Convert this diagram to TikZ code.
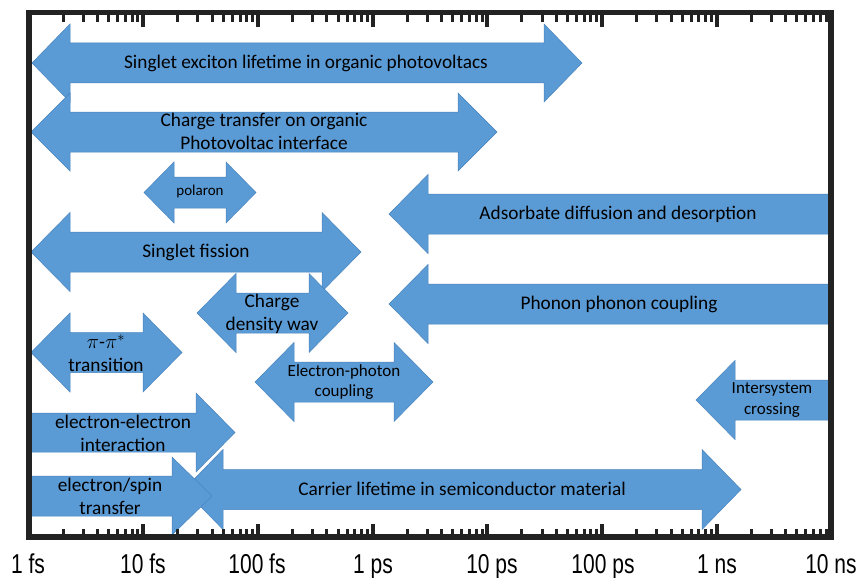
\documentclass[tikz,border=0pt]{standalone}
\usepackage{fontspec}
\usepackage{graphicx}
\setmainfont{Carlito}
\newfontfamily\axisfont{Liberation Sans}
\definecolor{arrowblue}{HTML}{5B9BD5}
\definecolor{arrowedge}{HTML}{4A84BE}
\definecolor{framegray}{HTML}{222222}
% double arrow: x1 x2 yc shafthalf headhalf headlength
\newcommand\DArrow[6]{%
  \path[arrowshape] (#1,#3) -- ({#1+#6},{#3-#5}) -- ({#1+#6},{#3-#4}) -- ({#2-#6},{#3-#4}) -- ({#2-#6},{#3-#5}) -- (#2,#3) -- ({#2-#6},{#3+#5}) -- ({#2-#6},{#3+#4}) -- ({#1+#6},{#3+#4}) -- ({#1+#6},{#3+#5}) -- cycle;}
% right arrow, flat left end
\newcommand\RArrow[6]{%
  \path[arrowshape] (#1,{#3-#4}) -- ({#2-#6},{#3-#4}) -- ({#2-#6},{#3-#5}) -- (#2,#3) -- ({#2-#6},{#3+#5}) -- ({#2-#6},{#3+#4}) -- (#1,{#3+#4}) -- cycle;}
% left arrow, flat right end
\newcommand\LArrow[6]{%
  \path[arrowshape] (#2,{#3-#4}) -- ({#1+#6},{#3-#4}) -- ({#1+#6},{#3-#5}) -- (#1,#3) -- ({#1+#6},{#3+#5}) -- ({#1+#6},{#3+#4}) -- (#2,{#3+#4}) -- cycle;}
\begin{document}
\begin{tikzpicture}[x=1pt,y=-1pt,
  arrowshape/.style={fill=arrowblue,draw=arrowedge,line width=0.5pt,line join=miter},
  lbl/.style={font=\fontsize{19.3}{23}\selectfont,align=center,inner sep=0pt},
  lblsmall/.style={font=\fontsize{17}{20.5}\selectfont,align=center,inner sep=0pt},
  lbltiny/.style={font=\fontsize{15}{18}\selectfont,align=center,inner sep=0pt},
  axislbl/.style={font=\axisfont\fontsize{21}{25}\selectfont,anchor=base,inner sep=0pt}]
\useasboundingbox (0,0) rectangle (860,578);
\fill[white] (0,0) rectangle (860,578);

% arrows
\DArrow{32}{582}{63}{20}{39}{38}
\DArrow{31}{497}{132}{20}{39}{39}
\DArrow{144}{256}{192.5}{15.5}{30.5}{30}
\DArrow{31}{361}{252}{20}{39.5}{39}
\DArrow{197}{348}{313}{20}{39.5}{39}
\DArrow{31}{182}{352.5}{20}{39.5}{39}
\DArrow{255}{433}{382}{20}{39.5}{39}
\LArrow{389}{829}{214}{20}{39.5}{39}
\LArrow{389}{829}{304}{20}{39.5}{39}
\LArrow{696}{829}{400}{20}{39.5}{39}
\DArrow{184}{741}{489.5}{20}{40}{39}
\RArrow{31}{235}{432.5}{19.5}{39.5}{39}
\RArrow{28}{212}{496}{20}{39}{40}

% labels
\node[lbl] (exciton) at (306,63) {Singlet exciton lifetime in organic photovoltacs};
\node[lbl] (ct) at (264,131) {Charge transfer on organic\\Photovoltac interface};
\node[lbltiny] (polaron) at (200,192) {polaron};
\node[lbl] (fission) at (196,252) {Singlet fission};
\node[lbl] (cdw) at (272,314) {Charge\\density wav};
\node[lbl] (pipi) at (106,353) {$\pi$-$\pi^*$\\transition};
\node[lblsmall] (ephoton) at (344,382) {Electron-photon\\coupling};
\node[lbl] (ee) at (123,433) {electron-electron\\interaction};
\node[lbl] (espin) at (110,496) {electron/spin\\transfer};
\node[lbl] (carrier) at (462,489) {Carrier lifetime in semiconductor material};
\node[lbl] (adsorb) at (618,214) {Adsorbate diffusion and desorption};
\node[lbl] (phonon) at (619,304) {Phonon phonon coupling};
\node[lblsmall] (isc) at (772,400) {Intersystem\\crossing};

% ticks
\foreach \d in {0,...,6}{
  \foreach \m in {2,...,9}{
    \fill[framegray] ({28.5+114.7*(\d+log10(\m))-1.5},537) rectangle +(3,-8);
    \fill[framegray] ({28.5+114.7*(\d+log10(\m))-1.5},12.5) rectangle +(3,9.5);
  }
}
\foreach \d in {1,...,6}{
  \fill[framegray] ({28.5+114.7*\d-2},537) rectangle +(4,-13);
  \fill[framegray] ({28.5+114.7*\d-2},12.5) rectangle +(4,14.5);
}
% frame
\draw[framegray,line width=5.5pt] (29,12.5) rectangle (831,537);

% axis labels
\node[axislbl] (t1fs) at (28,573) {\scalebox{1}[1.3]{1 fs}};
\node[axislbl] (t10fs) at (143,573) {\scalebox{1}[1.3]{10 fs}};
\node[axislbl] (t100fs) at (257,573) {\scalebox{1}[1.3]{100 fs}};
\node[axislbl] (t1ps) at (373,573) {\scalebox{1}[1.3]{1 ps}};
\node[axislbl] (t10ps) at (492,573) {\scalebox{1}[1.3]{10 ps}};
\node[axislbl] (t100ps) at (603,573) {\scalebox{1}[1.3]{100 ps}};
\node[axislbl] (t1ns) at (717,573) {\scalebox{1}[1.3]{1 ns}};
\node[axislbl] (t10ns) at (831,573) {\scalebox{1}[1.3]{10 ns}};
\end{tikzpicture}
\end{document}
